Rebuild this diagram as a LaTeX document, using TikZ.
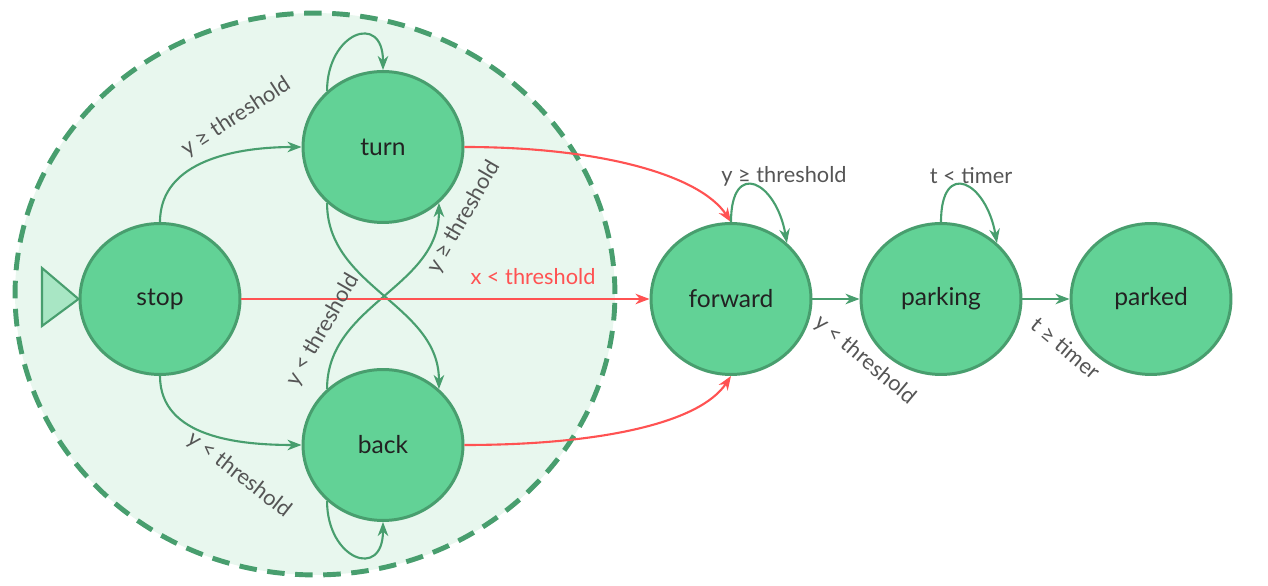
\documentclass[tikz,border=0pt]{standalone}
\usepackage{fontspec}
\setmainfont{Lato}
\usetikzlibrary{shapes.geometric, arrows.meta, positioning, calc}
\definecolor{stategreen}{RGB}{98, 210, 150}
\definecolor{edgegreen}{RGB}{72, 158, 110}
\definecolor{groupgreen}{RGB}{232, 247, 238}
\definecolor{startgreen}{RGB}{168, 230, 196}
\definecolor{xred}{RGB}{255, 82, 82}
\definecolor{labelgray}{RGB}{85, 85, 85}
\definecolor{textdark}{RGB}{34, 34, 34}

\begin{document}
\begin{tikzpicture}[x=0.02cm, y=0.02cm,
  state/.style={ellipse, draw=edgegreen, fill=stategreen, line width=1.7pt, minimum width=3.2cm, minimum height=3.02cm, inner sep=0pt, text=textdark, font=\fontsize{14}{16}\selectfont},
  lbl/.style={text=labelgray, inner sep=0pt, font=\fontsize{12.4}{14}\selectfont},
  trans/.style={draw=edgegreen, line width=1.2pt, -{Stealth[length=8pt, width=6pt, inset=2.5pt]}},
  redtrans/.style={draw=xred, line width=1.2pt, -{Stealth[length=8pt, width=6pt, inset=2.5pt]}}]
  \useasboundingbox (0, 0) rectangle (1268, 585);

  % Group of the moving states
  \draw[draw=edgegreen, fill=groupgreen, line width=2.8pt, dash pattern=on 10pt off 6pt] (315, 291) ellipse [x radius=6cm, y radius=5.62cm];

  % States
  \node[state] (stop) at (160, 286) {stop};
  \node[state] (turn) at (383, 438) {turn};
  \node[state] (back) at (383, 140) {back};
  \node[state] (forward) at (731, 286) {forward};
  \node[state] (parking) at (941, 286) {parking};
  \node[state] (parked) at (1151, 286) {parked};

  % Start marker
  \draw[draw=edgegreen, fill=startgreen, line width=1.2pt] (42, 317) -- (42, 259) -- (stop.west) -- cycle;

  % Transitions inside the group
  \draw[trans] (stop.north) to[out=90, in=180] (turn.west);
  \draw[trans] (stop.south) to[out=-90, in=180] (back.west);
  \draw[trans] (turn.135) to[out=90, in=90, looseness=2.5] (turn.north);
  \draw[trans] (back.225) to[out=-90, in=-90, looseness=2.5] (back.south);
  \draw[trans] (turn.225) to[out=-90, in=90] (back.45);
  \draw[trans] (back.135) to[out=90, in=-90] (turn.315);

  % Transitions to forward
  \draw[redtrans] (stop) -- (forward);
  \draw[redtrans] (turn.east) .. controls +(136, 0) and +(-31, 47) .. (forward.north);
  \draw[redtrans] (back.east) .. controls +(136, 0) and +(-31, -47) .. (forward.south);

  % Parking
  \draw[trans] (forward.north) to[out=90, in=100, looseness=2.7] (forward.45);
  \draw[trans] (parking.north) to[out=90, in=100, looseness=2.7] (parking.45);
  \draw[trans] (forward) -- (parking);
  \draw[trans] (parking) -- (parked);

  % Labels
  \node[lbl, rotate=33] (lblStopTurn) at (236, 468) {y ≥ threshold};
  \node[lbl, rotate=-38] (lblStopBack) at (239, 110) {y < threshold};
  \node[lbl, text=xred] (lblStopFwd) at (533, 308) {x < threshold};
  \node[lbl, rotate=60] (lblTurnBack) at (323, 255) {y < threshold};
  \node[lbl, rotate=60] (lblBackTurn) at (464, 368) {y ≥ threshold};
  \node[lbl] (lblFwdLoop) at (784, 409) {y ≥ threshold};
  \node[lbl] (lblParkLoop) at (971, 409) {t < timer};
  \node[lbl, rotate=-40] (lblFwdPark) at (865, 225) {y < threshold};
  \node[lbl, rotate=-40] (lblParkParked) at (1066, 237) {t ≥ timer};
\end{tikzpicture}
\end{document}
